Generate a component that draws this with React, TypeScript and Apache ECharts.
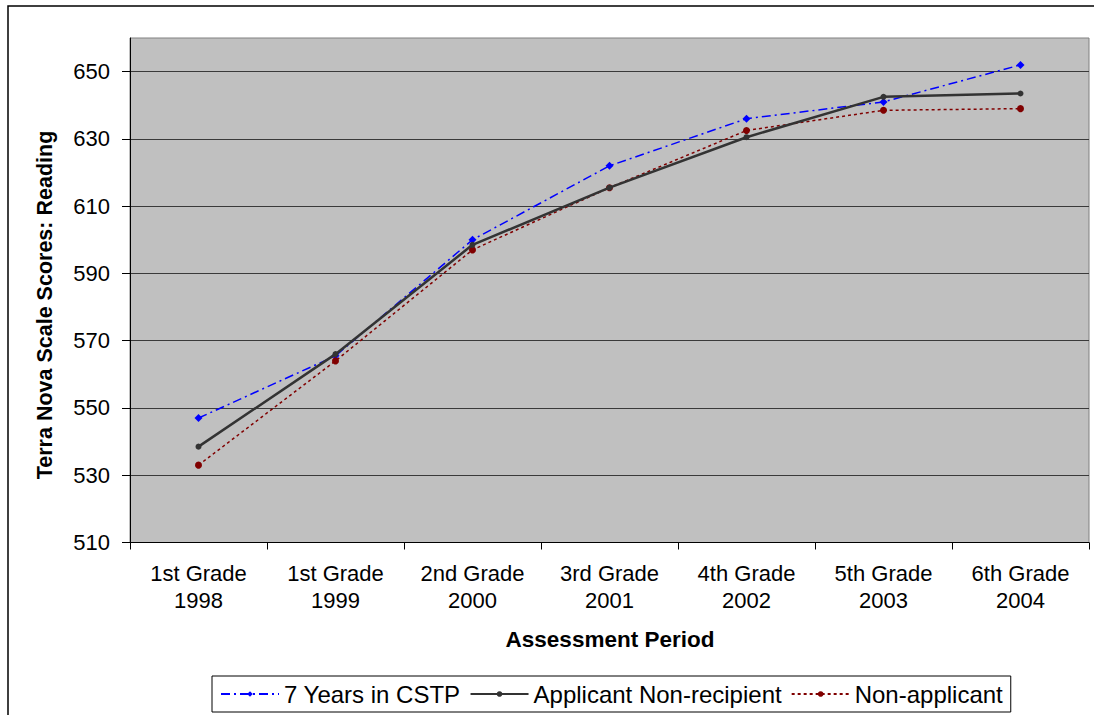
import React, { useEffect, useRef } from "react";
import * as echarts from "echarts";

const categories = [
  "1st Grade\n1998",
  "1st Grade\n1999",
  "2nd Grade\n2000",
  "3rd Grade\n2001",
  "4th Grade\n2002",
  "5th Grade\n2003",
  "6th Grade\n2004",
];
const cstp7 = [547, 565.5, 600, 622, 636, 641, 652];
const applicantNonRecipient = [538.5, 566, 598.5, 615.5, 630.5, 642.5, 643.5];
const nonApplicant = [533, 564, 597, 615.5, 632.5, 638.5, 639];
const yTicks = [510, 530, 550, 570, 590, 610, 630, 650];
const seriesNames = ["7 Years in CSTP", "Applicant Non-recipient", "Non-applicant"];

const FONT = "'Liberation Sans', Arial, sans-serif";

export default function App() {
  const ref = useRef<HTMLDivElement>(null);
  useEffect(() => {
    if (!ref.current) return;
    const chart = echarts.init(ref.current, undefined, { renderer: "svg" });
    chart.setOption({
      animation: false,
      backgroundColor: "#ffffff",
      textStyle: { fontFamily: FONT },
      grid: { left: 130, right: 5, top: 38, bottom: 172.5, show: true, backgroundColor: "#C0C0C0", borderColor: "#808080", borderWidth: 1 },
      graphic: [
        { type: "rect", shape: { x: 8, y: 6, width: 1300, height: 900 }, style: { fill: "none", stroke: "#000", lineWidth: 1.5 }, silent: true },
        { type: "text", x: 610, y: 639, style: { text: "Assessment Period", font: "bold 22.5px " + FONT, fill: "#000", textAlign: "center", textVerticalAlign: "middle" } },
        { type: "text", x: 45, y: 305, rotation: Math.PI / 2, style: { text: "Terra Nova Scale Scores: Reading", font: "bold 21.5px " + FONT, fill: "#000", textAlign: "center", textVerticalAlign: "middle" } },
      ],
      legend: {
        data: seriesNames,
        left: 212,
        top: 676,
        orient: "horizontal",
        borderColor: "#000",
        borderWidth: 1,
        padding: [6, 8],
        itemWidth: 58,
        itemHeight: 7,
        itemGap: 9,
        textStyle: { fontSize: 24, color: "#000", fontFamily: FONT },
      },
      xAxis: {
        type: "category",
        data: categories,
        boundaryGap: true,
        axisLine: { lineStyle: { color: "#000", width: 1 } },
        axisTick: { show: true, length: 7, lineStyle: { color: "#000" } },
        axisLabel: { fontSize: 22, color: "#000", margin: 17, lineHeight: 27, fontFamily: FONT, interval: 0 },
        splitLine: { show: false },
      },
      yAxis: {
        type: "value",
        min: 510,
        max: 660,
        interval: 10,
        axisLine: { show: true, lineStyle: { color: "#000", width: 1 } },
        axisTick: { show: true, length: 8, lineStyle: { color: "#000" }, customValues: yTicks },
        axisLabel: { fontSize: 22, color: "#000", margin: 20, fontFamily: FONT, customValues: yTicks },
        splitLine: { show: true, lineStyle: { color: "#3a3a3a", width: 1 } },
      },
      series: [
        {
          name: seriesNames[0],
          type: "line",
          data: cstp7,
          z: 2,
          symbol: "diamond",
          symbolSize: 8,
          itemStyle: { color: "#0000FF" },
          lineStyle: { color: "#0000FF", width: 1.5, type: [9, 4, 2, 4] },
        },
        {
          name: seriesNames[1],
          type: "line",
          data: applicantNonRecipient,
          z: 4,
          symbol: "circle",
          symbolSize: 6,
          itemStyle: { color: "#333333" },
          lineStyle: { color: "#333333", width: 2.5, type: "solid" },
        },
        {
          name: seriesNames[2],
          type: "line",
          data: nonApplicant,
          z: 3,
          symbol: "circle",
          symbolSize: 7,
          itemStyle: { color: "#800000" },
          lineStyle: { color: "#800000", width: 1.5, type: [3, 3] },
        },
      ],
    });
    return () => chart.dispose();
  }, []);
  return <div ref={ref} style={{ position: "absolute", left: 0, top: 0, width: 1094, height: 715 }} />;
}
